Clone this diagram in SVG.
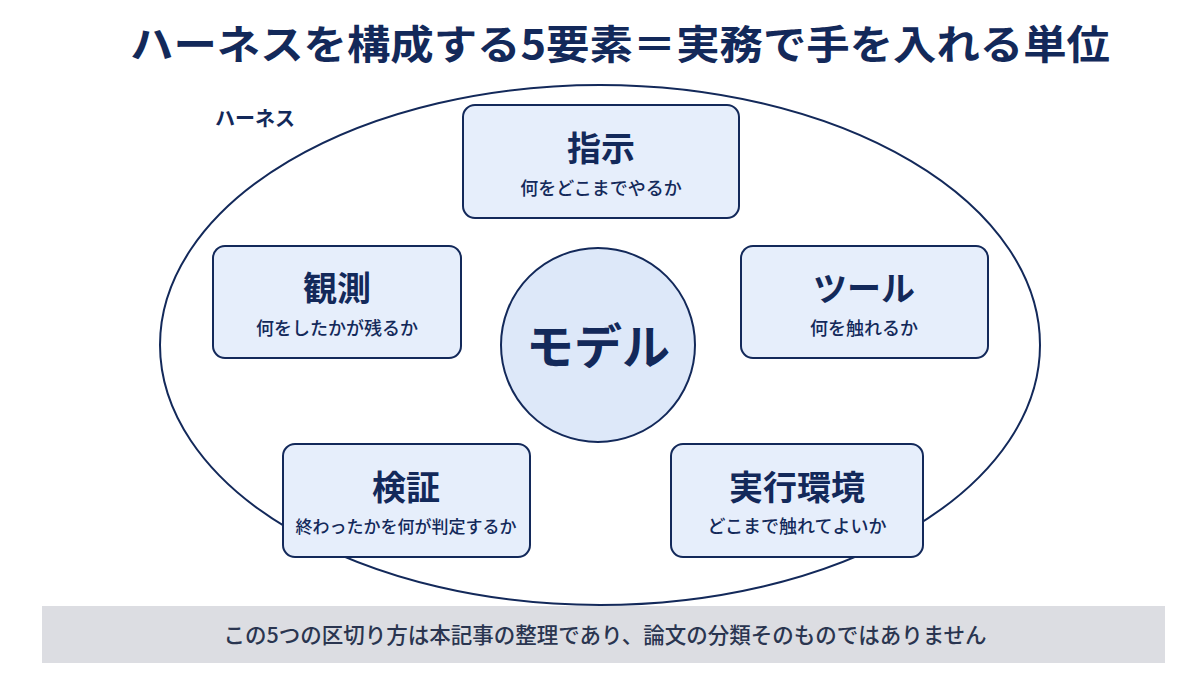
<svg xmlns="http://www.w3.org/2000/svg" width="1200" height="675" viewBox="0 0 1200 675">
<style>
text{font-family:"Noto Sans CJK JP","Noto Sans",sans-serif;fill:#13295a;text-anchor:middle}
.box{fill:#e6eefb;stroke:#13295a;stroke-width:2}
.h{font-size:34px;font-weight:700}
.s{font-size:18px;font-weight:500}
</style>
<rect width="1200" height="675" fill="#fff"/>
<text x="620" y="59" style="font-size:40px;font-weight:700" textLength="980" lengthAdjust="spacingAndGlyphs">ハーネスを構成する5要素＝実務で手を入れる単位</text>
<g id="harness">
<ellipse cx="600" cy="345" rx="440" ry="260" fill="none" stroke="#13295a" stroke-width="2"/>
<text x="255" y="126" style="font-size:20px;font-weight:700">ハーネス</text>
</g>
<g id="connectors"></g>
<g id="model"><circle cx="598" cy="345" r="97" fill="#dde8f9" stroke="#13295a" stroke-width="2"/><text x="598" y="364" style="font-size:48px;font-weight:700">モデル</text></g>
<g id="shiji"><rect class="box" x="463" y="105" width="276" height="113" rx="12"/><text class="h" x="601" y="161">指示</text><text class="s" x="601" y="195">何をどこまでやるか</text></g>
<g id="kansoku"><rect class="box" x="213" y="246" width="248" height="112" rx="12"/><text class="h" x="337" y="301">観測</text><text class="s" x="337" y="335">何をしたかが残るか</text></g>
<g id="tool"><rect class="box" x="741" y="246" width="247" height="112" rx="12"/><text class="h" x="864" y="301">ツール</text><text class="s" x="864" y="335">何を触れるか</text></g>
<g id="kensho"><rect class="box" x="283" y="444" width="247" height="113" rx="12"/><text class="h" x="406" y="500">検証</text><text class="s" x="406" y="533" style="font-size:17px">終わったかを何が判定するか</text></g>
<g id="env"><rect class="box" x="671" y="444" width="252" height="113" rx="12"/><text class="h" x="797" y="500">実行環境</text><text class="s" x="797" y="533">どこまで触れてよいか</text></g>
<g id="footer"><rect x="42" y="606" width="1123" height="57" fill="#dcdde2"/><text x="605" y="643" style="font-size:21.5px;font-weight:500;fill:#2a3550">この5つの区切り方は本記事の整理であり、論文の分類そのものではありません</text></g>
</svg>
